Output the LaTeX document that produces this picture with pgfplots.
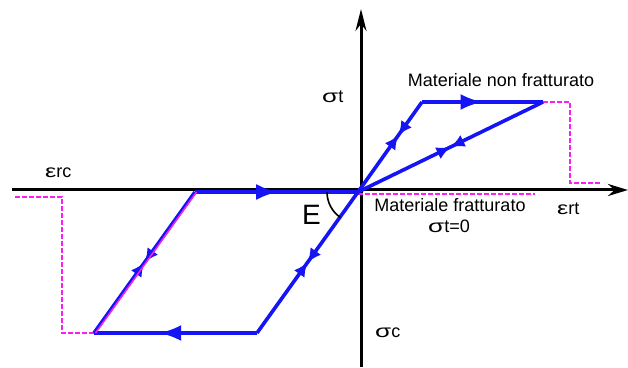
\documentclass[border=0pt]{standalone}
\usepackage{fontspec}
\setmainfont{Liberation Sans}
\usepackage{graphicx}
\usepackage{pgfplots}
\pgfplotsset{compat=1.18}
\usetikzlibrary{arrows.meta,decorations.markings}

\definecolor{loopblue}{RGB}{20,20,245}
\definecolor{softmag}{RGB}{250,30,240}

% single arrowhead at a given fraction of a segment
\tikzset{
  head/.style={postaction={decorate},decoration={markings,
    mark=at position #1 with {\arrow{Latex[length=22pt,width=16pt]}}}},
  % two opposed heads whose tips meet at fraction #1
  twohead/.style={postaction={decorate},decoration={markings,
    mark=at position #1 with {\arrow{Latex[length=14pt,width=13pt]}},
    mark=at position #1 with {\arrowreversed{Latex[length=14pt,width=13pt]}}}},
}
\newcommand{\sig}{\scalebox{1.45}[1]{σ}}
\newcommand{\eps}{\scalebox{1.4}[1]{ε}}

\begin{document}
\begin{tikzpicture}
\begin{axis}[
  hide axis, scale only axis, clip=false,
  width=628pt, height=367pt,
  xmin=0, xmax=628, ymin=0, ymax=367,
]
% strain and stress axes
\addplot[black, line width=3pt, -{Stealth[length=20pt,width=12pt]}] coordinates {(12,177) (628,177)};
\addplot[black, line width=3pt, -{Stealth[length=22pt,width=11pt]}] coordinates {(361,0) (361,358)};

% softening branches (dashed)
\addplot[softmag, line width=2.4pt, dash pattern=on 5pt off 2pt] coordinates {(543,265) (570,265) (570,184) (600,184)};
\addplot[softmag, line width=2.4pt, dash pattern=on 5pt off 2pt] coordinates {(358,173) (535,173)};
\addplot[softmag, line width=2.4pt, dash pattern=on 5pt off 2pt] coordinates {(94,34) (62,34) (62,170) (15,170)};

% tension loop
\addplot[loopblue, line width=3.6pt, twohead=0.63] coordinates {(358,175) (422,265)};
\addplot[loopblue, line width=3.6pt, head=0.5] coordinates {(422,265) (543,265)};
\addplot[loopblue, line width=3.6pt, twohead=0.5] coordinates {(543,265) (358,175)};

% compression loop
\addplot[loopblue, line width=3.6pt, twohead=0.5] coordinates {(358,175) (257,34)};
\addplot[loopblue, line width=3.6pt, head=0.6] coordinates {(257,34) (94,34)};
\addplot[loopblue, line width=3.6pt, twohead=0.5] coordinates {(94,34) (195,175)};
\addplot[loopblue, line width=3.6pt, head=0.51] coordinates {(195,175) (358,175)};
\addplot[softmag, line width=1.5pt] coordinates {(95.5,34) (196.5,175)};

% modulus arc
\draw[black, line width=1.6pt] (axis cs:327,175) arc[start angle=180, end angle=235, radius=31pt];

% labels
\fontsize{18pt}{21pt}\selectfont
\node[anchor=base, inner sep=0pt] at (axis cs:501,280) {Materiale non fratturato};
\node[anchor=base, inner sep=0pt] at (axis cs:450,155) {Materiale fratturato};
\node[anchor=base, inner sep=0pt] at (axis cs:449,134) {\sig t=0};
\node[anchor=base west, inner sep=0pt] at (axis cs:557,152) {\eps rt};
\node[anchor=base west, inner sep=0pt] at (axis cs:45,189) {\eps rc};
\node[anchor=base west, inner sep=0pt] at (axis cs:322,264) {\sig t};
\node[anchor=base west, inner sep=0pt] at (axis cs:375,30) {\sig c};
\node[anchor=base west, inner sep=0pt, font=\fontsize{28pt}{30pt}\selectfont] at (axis cs:302,142) {E};
\end{axis}
% page frame equals the axis box
\pgfresetboundingbox
\path (0,0) rectangle (628pt,367pt);
\end{tikzpicture}
\end{document}
